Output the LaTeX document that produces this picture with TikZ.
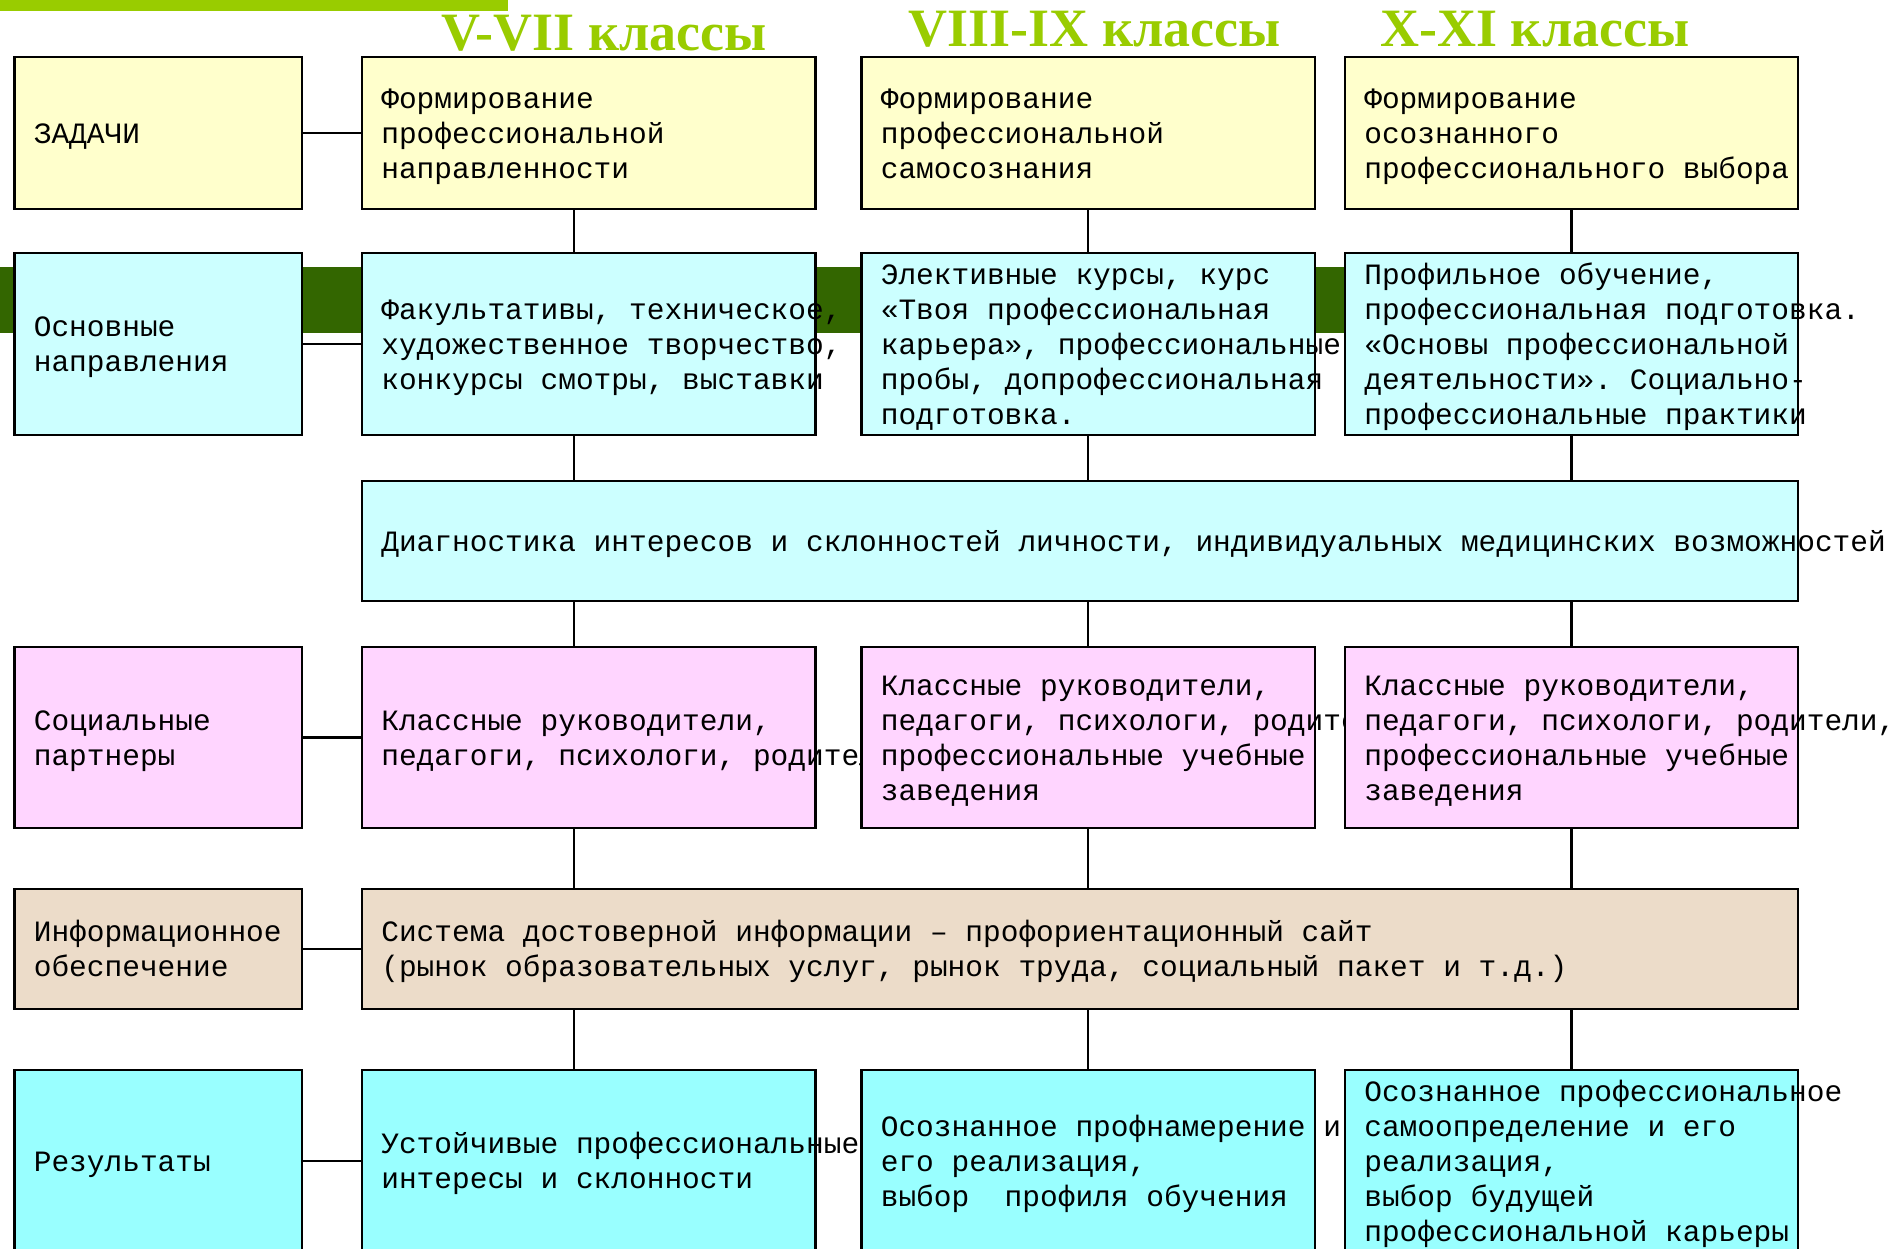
\documentclass[tikz,border=0pt]{standalone}
\usepackage{fontspec}
\setmainfont{Liberation Mono}
\newfontfamily\titlefam{Liberation Serif}
\usetikzlibrary{fit,calc}
\definecolor{cYellow}{HTML}{FFFFCC}
\definecolor{cCyan}{HTML}{CCFFFF}
\definecolor{cPink}{HTML}{FFD5FF}
\definecolor{cTan}{HTML}{ECDCC9}
\definecolor{cRes}{HTML}{99FFFF}
\definecolor{cDark}{HTML}{336600}
\definecolor{cLime}{HTML}{99CC00}
\newcommand{\monotext}{\fontsize{14.75pt}{17.55pt}\selectfont\frenchspacing}
\newcommand{\titletext}{\titlefam\bfseries\fontsize{27pt}{30pt}\selectfont}
\newcommand{\lnst}{\strut}
\tikzset{
  box/.style={draw=black, line width=1.1pt, inner sep=0pt},
  txt/.style={anchor=west, align=left, inner sep=0pt, font=\monotext, yshift=-1.7pt},
  conn/.style={draw=black, line width=1.05pt},
  ttl/.style={anchor=base, text=cLime, font=\titletext, inner sep=0pt},
}
\begin{document}
\begin{tikzpicture}[x=0.5pt,y=-0.5pt]
\useasboundingbox (0,0) rectangle (1900,1248);
% background decorations
\fill[cDark] (0,267) rectangle (1350,333);
\fill[cLime] (0,0) rectangle (508,11);
% titles
\node[ttl] (h1) at (604,50) {V-VII классы};
\node[ttl] (h2) at (1095,46) {VIII-IX классы};
\node[ttl] (h3) at (1535,46) {X-XI классы};

% ---------- left column ----------
\node[box, fill=cYellow, fit={(14.5,57) (302,209)}] (zad) {};
\node[txt] (zadT) at ($(zad.west)+(20,0)$) {\lnst ЗАДАЧИ};
\node[box, fill=cCyan, fit={(14.5,253) (302,435)}] (osn) {};
\node[txt] (osnT) at ($(osn.west)+(20,0)$) {\lnst Основные\\\lnst направления};
\node[box, fill=cPink, fit={(14.5,647) (302,828)}] (soc) {};
\node[txt] (socT) at ($(soc.west)+(20,0)$) {\lnst Социальные\\\lnst партнеры};
\node[box, fill=cTan, fit={(14.5,889) (302,1009)}] (inf) {};
\node[txt] (infT) at ($(inf.west)+(20,0)$) {\lnst Информационное\\\lnst обеспечение};
\node[box, fill=cRes, fit={(14.5,1070) (302,1252)}] (res) {};
\node[txt] (resT) at ($(res.west)+(20,0)$) {\lnst Результаты};

% ---------- column 1 ----------
\node[box, fill=cYellow, fit={(362,57) (815.5,209)}] (a1) {};
\node[txt] (a1T) at ($(a1.west)+(20,0)$) {\lnst Формирование\\\lnst профессиональной\\\lnst направленности};
\node[box, fill=cCyan, fit={(362,253) (815.5,435)}] (b1) {};
\node[txt] (b1T) at ($(b1.west)+(20,0)$) {\lnst Факультативы, техническое,\\\lnst художественное творчество,\\\lnst конкурсы смотры, выставки};
\node[box, fill=cPink, fit={(362,647) (815.5,828)}] (d1) {};
\node[txt] (d1T) at ($(d1.west)+(20,0)$) {\lnst Классные руководители,\\\lnst педагоги, психологи, родители,};
\node[box, fill=cRes, fit={(362,1070) (815.5,1252)}] (f1) {};
\node[txt] (f1T) at ($(f1.west)+(20,0)$) {\lnst Устойчивые профессиональные\\\lnst интересы и склонности};

% ---------- column 2 ----------
\node[box, fill=cYellow, fit={(861.5,57) (1315,209)}] (a2) {};
\node[txt] (a2T) at ($(a2.west)+(20,0)$) {\lnst Формирование\\\lnst профессиональной\\\lnst самосознания};
\node[box, fill=cCyan, fit={(861.5,253) (1315,435)}] (b2) {};
\node[txt] (b2T) at ($(b2.west)+(20,0)$) {\lnst Элективные курсы, курс\\\lnst «Твоя профессиональная\\\lnst карьера», профессиональные\\\lnst пробы, допрофессиональная\\\lnst подготовка.};
\node[box, fill=cPink, fit={(861.5,647) (1315,828)}] (d2) {};
\node[txt] (d2T) at ($(d2.west)+(20,0)$) {\lnst Классные руководители,\\\lnst педагоги, психологи, родители,\\\lnst профессиональные учебные\\\lnst заведения};
\node[box, fill=cRes, fit={(861.5,1070) (1315,1252)}] (f2) {};
\node[txt] (f2T) at ($(f2.west)+(20,0)$) {\lnst Осознанное профнамерение и\\\lnst его реализация,\\\lnst выбор~~профиля обучения};

% ---------- column 3 ----------
\node[box, fill=cYellow, fit={(1345,57) (1798,209)}] (a3) {};
\node[txt] (a3T) at ($(a3.west)+(20,0)$) {\lnst Формирование\\\lnst осознанного\\\lnst профессионального выбора};
\node[box, fill=cCyan, fit={(1345,253) (1798,435)}] (b3) {};
\node[txt] (b3T) at ($(b3.west)+(20,0)$) {\lnst Профильное обучение,\\\lnst профессиональная подготовка.\\\lnst «Основы профессиональной\\\lnst деятельности». Социально-\\\lnst профессиональные практики};
\node[box, fill=cPink, fit={(1345,647) (1798,828)}] (d3) {};
\node[txt] (d3T) at ($(d3.west)+(20,0)$) {\lnst Классные руководители,\\\lnst педагоги, психологи, родители,\\\lnst профессиональные учебные\\\lnst заведения};
\node[box, fill=cRes, fit={(1345,1070) (1798,1252)}] (f3) {};
\node[txt] (f3T) at ($(f3.west)+(20,0)$) {\lnst Осознанное профессиональное\\\lnst самоопределение и его\\\lnst реализация,\\\lnst выбор будущей\\\lnst профессиональной карьеры};

% ---------- wide boxes ----------
\node[box, fill=cCyan, fit={(362,481) (1798,601)}] (diag) {};
\node[txt] (diagT) at ($(diag.west)+(20,0)$) {\lnst Диагностика интересов и склонностей личности, индивидуальных медицинских возможностей};
\node[box, fill=cTan, fit={(362,889) (1798,1009)}] (info) {};
\node[txt] (infoT) at ($(info.west)+(20,0)$) {\lnst Система достоверной информации – профориентационный сайт\\\lnst (рынок образовательных услуг, рынок труда, социальный пакет и т.д.)};

% ---------- connectors ----------
\draw[conn] (zad.east) -- (a1.west);
\draw[conn] (osn.east) -- (b1.west);
\draw[conn] (soc.east) -- (d1.west);
\draw[conn] (inf.east) -- (info.west);
\draw[conn] (res.east) -- (f1.west);

\coordinate (x1) at (574,0);
\draw[conn] (a1.south -| x1) -- (b1.north -| x1);
\draw[conn] (b1.south -| x1) -- (diag.north -| x1);
\draw[conn] (diag.south -| x1) -- (d1.north -| x1);
\draw[conn] (d1.south -| x1) -- (info.north -| x1);
\draw[conn] (info.south -| x1) -- (f1.north -| x1);

\draw[conn] (a2.south) -- (b2.north);
\draw[conn] (b2.south) -- (diag.north -| b2.south);
\draw[conn] (diag.south -| d2.north) -- (d2.north);
\draw[conn] (d2.south) -- (info.north -| d2.south);
\draw[conn] (info.south -| f2.north) -- (f2.north);

\draw[conn] (a3.south) -- (b3.north);
\draw[conn] (b3.south) -- (diag.north -| b3.south);
\draw[conn] (diag.south -| d3.north) -- (d3.north);
\draw[conn] (d3.south) -- (info.north -| d3.south);
\draw[conn] (info.south -| f3.north) -- (f3.north);
\end{tikzpicture}
\end{document}
